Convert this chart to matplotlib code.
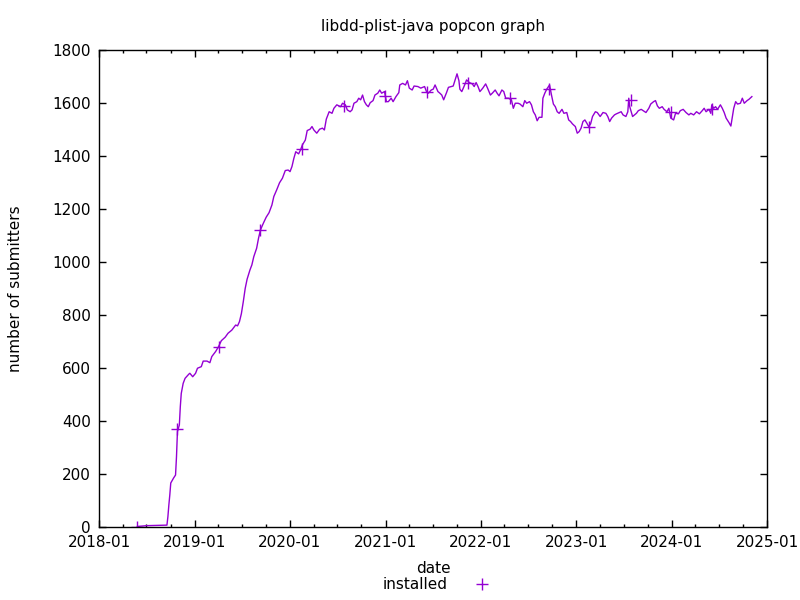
import numpy as np
import pandas as pd
import matplotlib
matplotlib.use('Agg')
import matplotlib.pyplot as plt
import matplotlib.dates as mdates
from matplotlib.lines import Line2D

# popcon data (date as fractional year, submitters)
years = [2018.40, 2018.50, 2018.71, 2018.72, 2018.73, 2018.74, 2018.75, 2018.78, 2018.80, 2018.81,
         2018.82, 2018.84, 2018.85, 2018.86, 2018.88, 2018.90, 2018.94, 2018.95, 2018.98, 2019.01,
         2019.03, 2019.07, 2019.09, 2019.13, 2019.16, 2019.18, 2019.22, 2019.25, 2019.28, 2019.32,
         2019.35, 2019.39, 2019.43, 2019.45, 2019.47, 2019.49, 2019.51, 2019.53, 2019.55, 2019.58,
         2019.60, 2019.62, 2019.65, 2019.67, 2019.69, 2019.72, 2019.75, 2019.78, 2019.81, 2019.83,
         2019.86, 2019.89, 2019.92, 2019.95, 2019.98, 2020.00, 2020.02, 2020.04, 2020.06, 2020.09,
         2020.11, 2020.13, 2020.16, 2020.18, 2020.21, 2020.23, 2020.25, 2020.28, 2020.31, 2020.34,
         2020.36, 2020.38, 2020.41, 2020.44, 2020.46, 2020.49, 2020.53, 2020.55, 2020.58, 2020.60,
         2020.63, 2020.65, 2020.67, 2020.70, 2020.72, 2020.74, 2020.76, 2020.78, 2020.80, 2020.82,
         2020.84, 2020.87, 2020.89, 2020.92, 2020.94, 2020.96, 2020.99, 2021.01, 2021.03, 2021.06,
         2021.08, 2021.11, 2021.14, 2021.15, 2021.18, 2021.21, 2021.23, 2021.25, 2021.28, 2021.30,
         2021.34, 2021.37, 2021.41, 2021.43, 2021.45, 2021.48, 2021.50, 2021.52, 2021.55, 2021.57,
         2021.59, 2021.61, 2021.64, 2021.66, 2021.69, 2021.71, 2021.73, 2021.75, 2021.77, 2021.78,
         2021.80, 2021.83, 2021.85, 2021.88, 2021.91, 2021.93, 2021.95, 2021.97, 2021.99, 2022.02,
         2022.05, 2022.07, 2022.10, 2022.12, 2022.15, 2022.17, 2022.19, 2022.22, 2022.24, 2022.26,
         2022.29, 2022.32, 2022.34, 2022.36, 2022.39, 2022.41, 2022.44, 2022.46, 2022.48, 2022.51,
         2022.53, 2022.55, 2022.57, 2022.59, 2022.61, 2022.64, 2022.65, 2022.67, 2022.69, 2022.72,
         2022.74, 2022.76, 2022.78, 2022.80, 2022.82, 2022.85, 2022.87, 2022.90, 2022.92, 2022.94,
         2022.96, 2022.99, 2023.01, 2023.03, 2023.05, 2023.07, 2023.09, 2023.11, 2023.13, 2023.15,
         2023.17, 2023.20, 2023.22, 2023.25, 2023.28, 2023.31, 2023.33, 2023.35, 2023.37, 2023.40,
         2023.42, 2023.45, 2023.47, 2023.49, 2023.52, 2023.54, 2023.55, 2023.56, 2023.59, 2023.61,
         2023.63, 2023.65, 2023.68, 2023.70, 2023.73, 2023.76, 2023.78, 2023.81, 2023.83, 2023.85,
         2023.87, 2023.90, 2023.92, 2023.95, 2023.97, 2023.99, 2024.02, 2024.04, 2024.07, 2024.09,
         2024.12, 2024.15, 2024.18, 2024.20, 2024.23, 2024.26, 2024.29, 2024.32, 2024.34, 2024.36,
         2024.39, 2024.41, 2024.42, 2024.44, 2024.46, 2024.48, 2024.51, 2024.53, 2024.55, 2024.57,
         2024.60, 2024.62, 2024.63, 2024.65, 2024.67, 2024.69, 2024.72, 2024.74, 2024.76, 2024.79,
         2024.81, 2024.84]
installed = [2, 5, 7, 39, 83, 121, 166, 185, 196, 265,
             360, 385, 454, 504, 542, 561, 577, 580, 567, 580,
             599, 605, 626, 626, 620, 643, 662, 680, 703, 716,
             731, 743, 762, 759, 775, 805, 850, 900, 935, 970,
             989, 1020, 1052, 1090, 1121, 1146, 1169, 1186, 1215, 1247,
             1272, 1299, 1316, 1345, 1347, 1341, 1360, 1391, 1416, 1408,
             1423, 1442, 1460, 1496, 1501, 1511, 1498, 1486, 1501, 1505,
             1498, 1539, 1567, 1561, 1580, 1593, 1586, 1599, 1593, 1574,
             1567, 1574, 1599, 1605, 1618, 1612, 1630, 1605, 1593, 1586,
             1601, 1609, 1630, 1637, 1649, 1637, 1643, 1605, 1605, 1618,
             1605, 1624, 1639, 1668, 1674, 1668, 1684, 1656, 1649, 1664,
             1662, 1656, 1662, 1643, 1637, 1649, 1652, 1668, 1643, 1637,
             1630, 1612, 1639, 1659, 1662, 1664, 1687, 1710, 1684, 1652,
             1643, 1668, 1687, 1677, 1672, 1662, 1677, 1662, 1643, 1656,
             1672, 1656, 1630, 1637, 1649, 1637, 1627, 1649, 1643, 1618,
             1618, 1612, 1580, 1599, 1599, 1596, 1586, 1609, 1599, 1605,
             1593, 1567, 1555, 1533, 1546, 1546, 1618, 1637, 1652, 1668,
             1630, 1596, 1586, 1567, 1561, 1576, 1561, 1564, 1536, 1530,
             1521, 1511, 1486, 1492, 1505, 1530, 1536, 1524, 1511, 1521,
             1549, 1567, 1564, 1549, 1564, 1561, 1549, 1530, 1543, 1555,
             1559, 1564, 1567, 1555, 1549, 1567, 1618, 1586, 1549, 1555,
             1561, 1571, 1576, 1571, 1564, 1580, 1596, 1605, 1609, 1589,
             1580, 1586, 1576, 1567, 1580, 1543, 1536, 1561, 1559, 1571,
             1576, 1564, 1555, 1561, 1555, 1567, 1559, 1571, 1580, 1567,
             1576, 1561, 1593, 1580, 1586, 1576, 1593, 1580, 1564, 1543,
             1526, 1513, 1536, 1580, 1605, 1596, 1599, 1618, 1599, 1609,
             1614, 1624]

# where gnuplot put its "+" points
mark_years = [2018.40, 2018.82, 2019.26, 2019.69, 2020.13, 2020.57, 2021.00, 2021.44,
              2021.87, 2022.31, 2022.71, 2023.13, 2023.57, 2023.99, 2024.42]
mark_vals = [0, 370, 680, 1120, 1428, 1589, 1626, 1643,
             1674, 1618, 1652, 1511, 1612, 1566, 1576]


def to_dates(yrs):
    yrs = np.asarray(yrs)
    return pd.Timestamp('2018-01-01') + pd.to_timedelta((yrs - 2018) * 365.25, unit='D')


color = '#9400d3'
plt.rcParams['font.family'] = 'DejaVu Sans'

fig = plt.figure(figsize=(8, 6), dpi=100)
ax = fig.add_axes([0.124, 0.1217, 0.835, 0.795])

ax.plot(to_dates(years), installed, color=color, lw=1)
ax.plot(to_dates(mark_years), mark_vals, ls='none', marker='+', color=color,
        markersize=8, markeredgewidth=1)

ax.set_xlim(pd.Timestamp('2018-01-01'), pd.Timestamp('2025-01-01'))
ax.set_ylim(0, 1800)
ax.set_yticks(np.arange(0, 1801, 200))
ax.xaxis.set_major_locator(mdates.MonthLocator(bymonth=1))
ax.xaxis.set_minor_locator(mdates.MonthLocator(bymonth=[4, 7, 10]))
ax.xaxis.set_major_formatter(mdates.DateFormatter('%Y-%m'))

ax.tick_params(which='both', direction='in', top=True, right=True, labelsize=11, width=1)
ax.tick_params(which='major', length=5, pad=6)
ax.tick_params(which='minor', length=2.5)
for s in ax.spines.values():
    s.set_linewidth(1)

ax.set_title('libdd-plist-java popcon graph', fontsize=11, pad=14)
ax.set_xlabel('date', fontsize=11, labelpad=8)
ax.set_ylabel('number of submitters', fontsize=11, labelpad=21)

handle = Line2D([], [], ls='none', marker='+', color=color, markersize=8, markeredgewidth=1)
fig.legend([handle], ['installed'], loc='center', bbox_to_anchor=(0.55, 0.026),
           frameon=False, markerfirst=False, fontsize=11, handlelength=2, handletextpad=1.2)

fig.savefig('out.png', dpi=100)
